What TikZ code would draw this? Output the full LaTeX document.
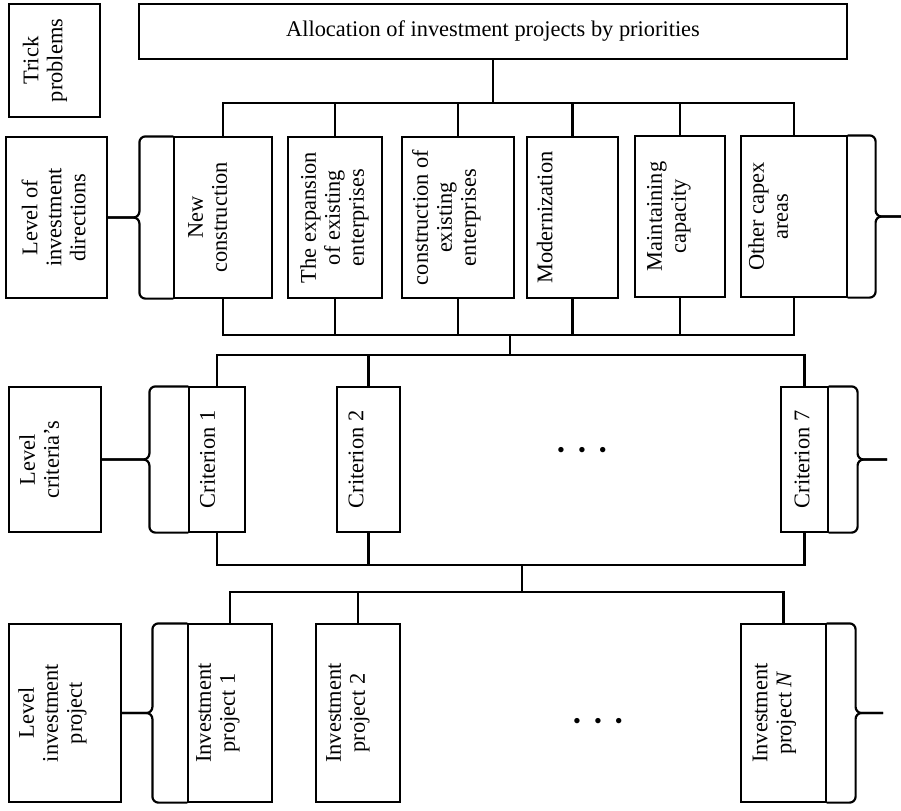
\documentclass[tikz,border=0pt]{standalone}
\usepackage{fontspec}
\setmainfont{Liberation Serif}
\usepackage{graphicx}
\usepackage{xcolor}
\usetikzlibrary{calc}
\definecolor{DiagBlack}{HTML}{000000}
\definecolor{DiagWhite}{HTML}{FFFFFF}
\newcommand{\vlabel}[2][0pt]{\rotatebox{90}{\begin{tabular}{@{}c@{}}#2\end{tabular}}\hspace*{#1}}
\tikzset{
    box/.style={
        draw=DiagBlack,
        fill=DiagWhite,
        line width=0.6pt,
        inner sep=0pt,
        text=DiagBlack,
        font=\fontsize{11.2}{12}\selectfont
    },
    wire/.style={
        draw=DiagBlack,
        line width=1.1pt
    },
    bracket/.style={
        draw=DiagBlack,
        line width=1.1pt,
        rounded corners=3pt
    },
    dotrow/.style={
        text=DiagBlack,
        font=\fontsize{11.2}{12}\selectfont
    }
}

\begin{document}
\begin{tikzpicture}[x=0.5pt, y=-0.5pt]
        \useasboundingbox (0,0) rectangle (901,810);

        % Goal and row labels
        \node[box, minimum width=354pt, minimum height=27.5pt] (top) at (493,31.5) {Allocation of investment projects by priorities};
        \node[box, minimum width=45.5pt, minimum height=56.5pt] (trick) at (54.5,60.5) {\vlabel[9pt]{Trick\\problems}};
        \node[box, minimum width=50.5pt, minimum height=80.5pt] (lvA) at (56.5,217.5) {\vlabel{Level of\\investment\\directions}};
        \node[box, minimum width=46pt, minimum height=72.5pt] (lvB) at (55,459.5) {\vlabel[13pt]{Level\\criteria's}};
        \node[box, minimum width=56pt, minimum height=89pt] (lvC) at (65,713) {\vlabel[12pt]{Level\\investment\\project}};

        % Investment directions
        \node[box, minimum width=49pt, minimum height=80.5pt] (nc) at (223,217.5) {\vlabel[13pt]{New\\construction}};
        \node[box, minimum width=47pt, minimum height=80.5pt] (ex) at (335,217.5) {\vlabel{The expansion\\of existing\\enterprises}};
        \node[box, minimum width=56pt, minimum height=80.5pt] (ce) at (458,217.5) {\vlabel[11pt]{construction of\\existing\\enterprises}};
        \node[box, minimum width=45.5pt, minimum height=80.5pt] (mo) at (572.5,217.5) {\vlabel[25pt]{Modernization}};
        \node[box, minimum width=45pt, minimum height=80.5pt] (mc) at (680,216.5) {\vlabel[11pt]{Maintaining\\capacity}};
        \node[box, minimum width=53pt, minimum height=80.5pt] (oc) at (794,216.5) {\vlabel[23pt]{Other capex\\areas}};

        % Criteria
        \node[box, minimum width=28pt, minimum height=72.5pt] (c1) at (217,459.5) {\vlabel[7pt]{Criterion 1}};
        \node[box, minimum width=31.5pt, minimum height=72.5pt] (c2) at (368.5,459.5) {\vlabel[10pt]{Criterion 2}};
        \node[dotrow] (dotsB) at (582,452) {\textbullet\hspace{6.5pt}\textbullet\hspace{6.5pt}\textbullet};
        \node[box, minimum width=23.5pt, minimum height=72.5pt] (c7) at (804.5,459.5) {\vlabel{Criterion 7}};

        % Investment projects
        \node[box, minimum width=42pt, minimum height=89pt] (p1) at (230,713) {\vlabel[12pt]{Investment\\project 1}};
        \node[box, minimum width=42pt, minimum height=89pt] (p2) at (358,713) {\vlabel[10pt]{Investment\\project 2}};
        \node[dotrow] (dotsC) at (598,723) {\textbullet\hspace{6.5pt}\textbullet\hspace{6.5pt}\textbullet};
        \node[box, minimum width=42.5pt, minimum height=89pt] (pN) at (783.5,713) {\vlabel[9pt]{Investment\\project \textit{N}}};

        % Buses between levels
        \coordinate (hubA) at (493,103);
        \coordinate (hubB) at (510,335);
        \coordinate (hubC) at (510,355);
        \coordinate (hubD) at (522,565);
        \coordinate (hubE) at (522,592);
        \draw[wire] (top) -- (hubA);
        \foreach \n in {nc,ex,ce,mo,mc,oc} {
            \draw[wire] (\n.north) |- (hubA);
            \draw[wire] (\n.south) |- (hubB);
        }
        \draw[wire] (hubB) -- (hubC);
        \foreach \n in {c1,c2,c7} {
            \draw[wire] (\n.north) |- (hubC);
            \draw[wire] (\n.south) |- (hubD);
        }
        \draw[wire] (hubD) -- (hubE);
        \foreach \n in {p1,p2,pN}
            \draw[wire] (\n.north) |- (hubE);

        % Braces
        \coordinate (bA1) at ($(nc.west)+(-34,0)$);
        \coordinate (bA2) at ($(oc.east)+(28,0)$);
        \coordinate (tA) at (901,216.5);
        \coordinate (bB1) at ($(c1.west)+(-39,0)$);
        \coordinate (bB2) at ($(c7.east)+(29,0)$);
        \coordinate (tB) at (887,459.5);
        \coordinate (bC1) at ($(p1.west)+(-35,0)$);
        \coordinate (bC2) at ($(pN.east)+(29,0)$);
        \coordinate (tC) at (883,713);
        \draw[bracket] (nc.north west) -| (bA1) -- (lvA);
        \draw[bracket] (nc.south west) -| (bA1) -- (lvA);
        \draw[bracket] (oc.north east) -| (bA2) -- (tA);
        \draw[bracket] (oc.south east) -| (bA2) -- (tA);
        \draw[bracket] (c1.north west) -| (bB1) -- (lvB);
        \draw[bracket] (c1.south west) -| (bB1) -- (lvB);
        \draw[bracket] (c7.north east) -| (bB2) -- (tB);
        \draw[bracket] (c7.south east) -| (bB2) -- (tB);
        \draw[bracket] (p1.north west) -| (bC1) -- (lvC);
        \draw[bracket] (p1.south west) -| (bC1) -- (lvC);
        \draw[bracket] (pN.north east) -| (bC2) -- (tC);
        \draw[bracket] (pN.south east) -| (bC2) -- (tC);
    \end{tikzpicture}
\end{document}
